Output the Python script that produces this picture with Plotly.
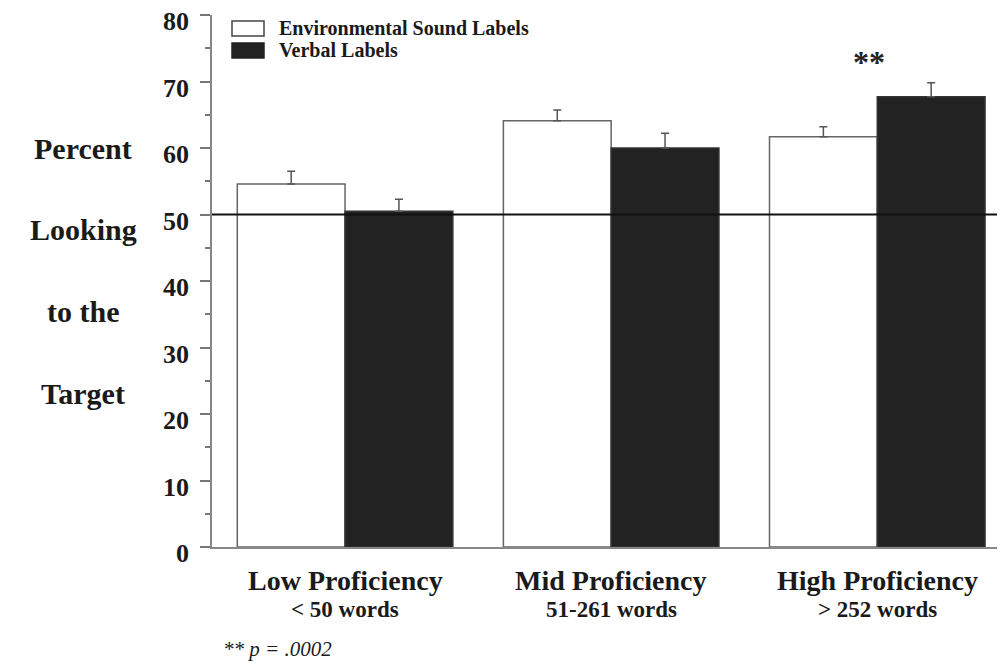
import plotly.graph_objects as go

categories = ["Low Proficiency", "Mid Proficiency", "High Proficiency"]
subtitles = ["&lt; 50 words", "51-261 words", "&gt; 252 words"]
env_vals = [54.6, 64.1, 61.7]
env_err = [1.9, 1.6, 1.5]
verbal_vals = [50.5, 60.0, 67.7]
verbal_err = [1.8, 2.2, 2.1]
y_ticks = [0, 10, 20, 30, 40, 50, 60, 70, 80]
y_title_lines = ["Percent", "Looking", "to the", "Target"]
series_names = ["Environmental Sound Labels", "Verbal Labels"]

SERIF = "Liberation Serif"
TXT = "#1a1a1a"

# screenshot pixel geometry (page has an 8px body margin)
OFF = 8
PL, PR, PT, PB = 212, 1005, 15, 547


def px(x):
    return (x - PL) / (PR - PL)


def py(y):
    return (PB - y) / (PB - PT)


fig = go.Figure()
fig.add_trace(go.Bar(
    x=categories, y=env_vals, name=series_names[0], showlegend=False,
    marker=dict(color="white", line=dict(color="#666666", width=1.5)),
    error_y=dict(type="data", symmetric=False, array=env_err, arrayminus=[0] * 3,
                 color="#555555", thickness=1.5, width=4),
))
fig.add_trace(go.Bar(
    x=categories, y=verbal_vals, name=series_names[1], showlegend=False,
    marker=dict(color="#222222", line=dict(color="#333333", width=1.5)),
    error_y=dict(type="data", symmetric=False, array=verbal_err, arrayminus=[0] * 3,
                 color="#555555", thickness=1.5, width=4),
))

fig.add_shape(type="line", xref="paper", yref="y", x0=0, x1=1, y0=50, y1=50,
              line=dict(color="#111111", width=2))

# custom legend
legend_boxes = [(21, 36, "white", "#444444"), (43, 58, "#222222", "#222222")]
for (y0, y1, fc, lc), name in zip(legend_boxes, series_names):
    fig.add_shape(type="rect", xref="paper", yref="paper",
                  x0=px(232), x1=px(264), y0=py(y1), y1=py(y0),
                  fillcolor=fc, line=dict(color=lc, width=1.5))
    fig.add_annotation(x=px(277), xref="paper", xanchor="left",
                       y=py((y0 + y1) / 2), yref="paper", yanchor="middle",
                       text=f"<b>{name}</b>", showarrow=False,
                       font=dict(family=SERIF, size=20, color=TXT))

# category labels
for c, s in zip(categories, subtitles):
    fig.add_annotation(x=c, xref="x", y=0, yref="y", yshift=-33, text=f"<b>{c}</b>",
                       showarrow=False, font=dict(family=SERIF, size=28, color=TXT),
                       yanchor="middle")
    fig.add_annotation(x=c, xref="x", y=0, yref="y", yshift=-62, text=f"<b>{s}</b>",
                       showarrow=False, font=dict(family=SERIF, size=23, color=TXT),
                       yanchor="middle")

# y title lines
for i, t in enumerate(y_title_lines):
    fig.add_annotation(x=px(83), xref="paper", xanchor="center",
                       y=py(148 + i * 81.7), yref="paper", yanchor="middle",
                       text=f"<b>{t}</b>", showarrow=False,
                       font=dict(family=SERIF, size=30, color=TXT))

fig.add_annotation(x="High Proficiency", xref="x", xshift=-8, y=73.0, yref="y",
                   text="<b>**</b>", showarrow=False,
                   font=dict(family=SERIF, size=32, color="#222"), yanchor="middle")

fig.add_annotation(x=px(221), xref="paper", xanchor="left",
                   y=py(649), yref="paper", yanchor="middle",
                   text="<i>** p = .0002</i>", showarrow=False,
                   font=dict(family=SERIF, size=21, color=TXT))

fig.update_layout(
    width=1005 - OFF, height=662 - OFF,
    margin=dict(l=PL - OFF, r=0, t=PT - OFF, b=662 - PB, autoexpand=False),
    paper_bgcolor="white", plot_bgcolor="white",
    barmode="group", bargap=0.19, bargroupgap=0,
    showlegend=False,
    xaxis=dict(range=[-0.5, 2.48], showticklabels=False, ticks="", showline=True,
               linecolor="#888888", linewidth=1.5, showgrid=False, zeroline=False),
    yaxis=dict(range=[0, 80], tickvals=y_ticks, ticks="outside", ticklen=10, tickwidth=1.5,
               tickcolor="#777777", showline=True, linecolor="#888888", linewidth=1.5,
               showgrid=False, zeroline=False, ticklabeloverflow="allow",
               ticklabelstandoff=6, ticklabelshift=6,
               tickfont=dict(family=SERIF, size=26, color=TXT, weight="bold"),
               minor=dict(dtick=5, ticks="outside", ticklen=5, tickwidth=1.5,
                          tickcolor="#777777")),
)

fig.write_html("out.html")
